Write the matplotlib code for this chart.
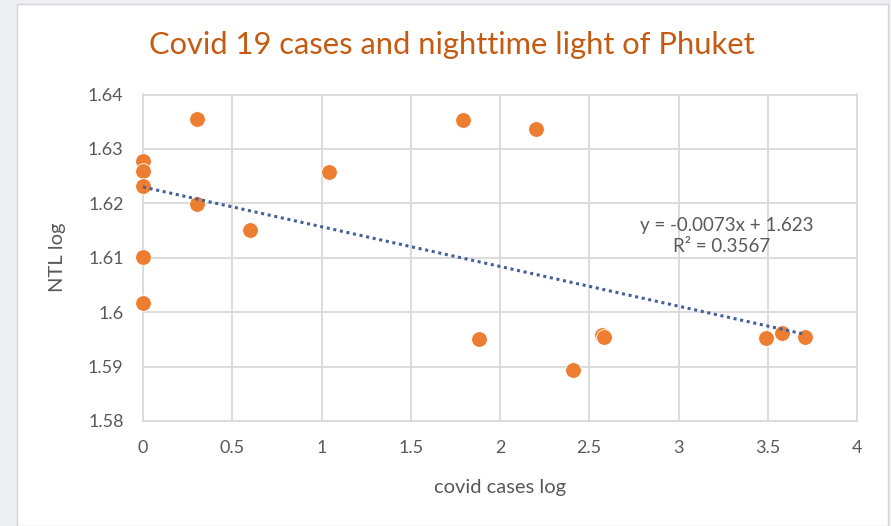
import matplotlib.pyplot as plt
from matplotlib.patches import Rectangle

# data
cases_log = [0, 0, 0, 0, 0, 0.30, 0.30, 0.60, 1.04, 1.79, 1.88, 2.20, 2.41,
             2.57, 2.58, 3.49, 3.58, 3.71]
ntl_log = [1.6278, 1.6260, 1.6231, 1.6102, 1.6017, 1.6355, 1.6199, 1.6151,
           1.6258, 1.6354, 1.5950, 1.6337, 1.5893, 1.5958, 1.5955, 1.5952,
           1.5961, 1.5955]
slope, intercept, r2 = -0.0073, 1.623, 0.3567
x_ticks = [0, 0.5, 1, 1.5, 2, 2.5, 3, 3.5, 4]
x_tick_labels = ["0", "0.5", "1", "1.5", "2", "2.5", "3", "3.5", "4"]
y_ticks = [1.58, 1.59, 1.60, 1.61, 1.62, 1.63, 1.64]
y_tick_labels = ["1.58", "1.59", "1.6", "1.61", "1.62", "1.63", "1.64"]

plt.rcParams["font.family"] = ["Lato", "DejaVu Sans"]
gray = "#595959"

fig = plt.figure(figsize=(8.91, 5.26), dpi=100)
fig.patch.set_facecolor("#EDEFF2")
fig.patches.append(Rectangle((17 / 891, 0), 871 / 891, 522 / 526,
                             transform=fig.transFigure, facecolor="white",
                             edgecolor="#D4D4D4", linewidth=1, zorder=-5))

ax = fig.add_axes([143 / 891, 1 - 421 / 526, 714 / 891, 326.5 / 526])
ax.patch.set_alpha(0)
ax.set_xlim(0, 4)
ax.set_ylim(1.58, 1.64)
ax.set_xticks(x_ticks)
ax.set_xticklabels(x_tick_labels)
ax.set_yticks(y_ticks)
ax.set_yticklabels(y_tick_labels)
ax.grid(True, color="#D9D9D9", linewidth=1.3)
ax.set_axisbelow(True)
for s in ax.spines.values():
    s.set_color("#D9D9D9")
    s.set_linewidth(1.3)
ax.tick_params(axis="x", length=0, colors=gray, labelsize=13, pad=14)
ax.tick_params(axis="y", length=0, colors=gray, labelsize=13, pad=14)

ax.scatter(cases_log, ntl_log, s=128, color="#ED7D31", edgecolor="white",
           linewidth=0.6, zorder=3, clip_on=False)

x0, x1 = min(cases_log), max(cases_log)
ax.plot([x0, x1], [slope * x0 + intercept, slope * x1 + intercept],
        color="#44609A", linestyle=(0, (1, 1.2)), linewidth=2.2, zorder=4)

ax.text(3.27, 1.6159, f"y = {slope}x + {intercept}", color=gray, fontsize=13.5,
        ha="center", va="center")
ax.text(3.24, 1.6120, f"R² = {r2}", color=gray, fontsize=13.5,
        ha="center", va="center")

ax.set_xlabel("covid cases log", color=gray, fontsize=14.5, labelpad=16)
ax.set_ylabel("NTL log", color=gray, fontsize=14.5, labelpad=16)
fig.text(452 / 891, 1 - 45 / 526, "Covid 19 cases and nighttime light of Phuket",
         color="#C55A11", fontsize=22.2, ha="center", va="center")

fig.savefig("out.png", dpi=100, facecolor=fig.get_facecolor())
